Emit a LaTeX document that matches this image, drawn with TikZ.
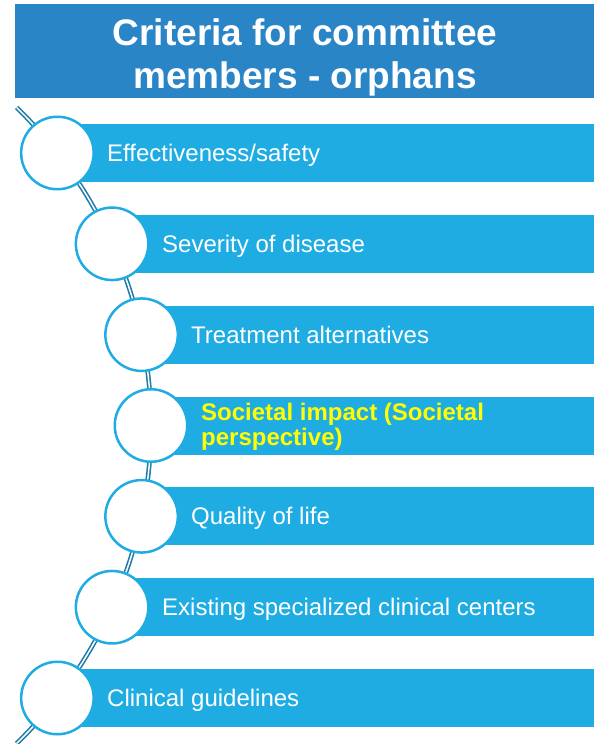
\documentclass[tikz,border=0pt]{standalone}
\usepackage{fontspec}
\setmainfont{Liberation Sans}
\definecolor{titleblue}{HTML}{2A85C7}
\definecolor{barblue}{HTML}{1EACE3}
\definecolor{linkblue}{HTML}{1F7CA8}
\definecolor{hiyellow}{HTML}{FFFF00}
\tikzset{
  titlebar/.style={fill=titleblue, draw=none, inner sep=0pt, anchor=north west},
  bar/.style={fill=barblue, draw=none, inner sep=0pt, minimum height=58pt, anchor=west},
  ring/.style={circle, fill=white, draw=barblue, line width=2.5pt, inner sep=0pt, minimum size=72.5pt},
  link/.style={draw=linkblue, line width=1.6pt, double=white, double distance=1.5pt},
  itemtext/.style={text=white, font=\fontsize{24}{28}\selectfont, inner sep=0pt, anchor=base west},
  hitext/.style={text=hiyellow, font=\fontsize{24}{25}\selectfont\bfseries, align=left, inner sep=0pt, anchor=west},
  titletext/.style={text=white, font=\fontsize{37}{43}\selectfont\bfseries, align=center, inner sep=0pt}
}
\begin{document}
\begin{tikzpicture}[x=1pt,y=-1pt]
\useasboundingbox (0,0) rectangle (594,744);
% title
\node[titlebar, minimum width=579pt, minimum height=94pt] (tbar) at (15,4) {};
\node[titletext] (title) at (305,57) {Criteria for committee\\members - orphans};
% connector arc
\coordinate (arcstart) at (16.6,107.5);
\draw[link] (arcstart) arc[start angle=-45.82, end angle=45.82, radius=443.4];
% bars
\node[bar, minimum width=536.6pt] (b1) at (57.4,153) {};
\node[bar, minimum width=481.9pt] (b2) at (112.1,243.8) {};
\node[bar, minimum width=452.4pt] (b3) at (141.6,334.7) {};
\node[bar, minimum width=443pt] (b4) at (151,425.5) {};
\node[bar, minimum width=452.4pt] (b5) at (141.6,516.3) {};
\node[bar, minimum width=481.9pt] (b6) at (112.1,607.2) {};
\node[bar, minimum width=536.6pt] (b7) at (57.4,698) {};
% circles
\node[ring] (c1) at (57.4,153) {};
\node[ring] (c2) at (112.1,243.8) {};
\node[ring] (c3) at (141.6,334.7) {};
\node[ring] (c4) at (151,425.5) {};
\node[ring] (c5) at (141.6,516.3) {};
\node[ring] (c6) at (112.1,607.2) {};
\node[ring] (c7) at (57.4,698) {};
% texts
\node[itemtext] (t1) at (107,161.6) {Effectiveness/safety};
\node[itemtext] (t2) at (162,252.4) {Severity of disease};
\node[itemtext] (t3) at (191,343.3) {Treatment alternatives};
\node[hitext] (t4) at (201,426.5) {Societal impact (Societal\\perspective)};
\node[itemtext] (t5) at (191,524.9) {Quality of life};
\node[itemtext] (t6) at (162,615.8) {Existing specialized clinical centers};
\node[itemtext] (t7) at (107,706.6) {Clinical guidelines};
\end{tikzpicture}
\end{document}
